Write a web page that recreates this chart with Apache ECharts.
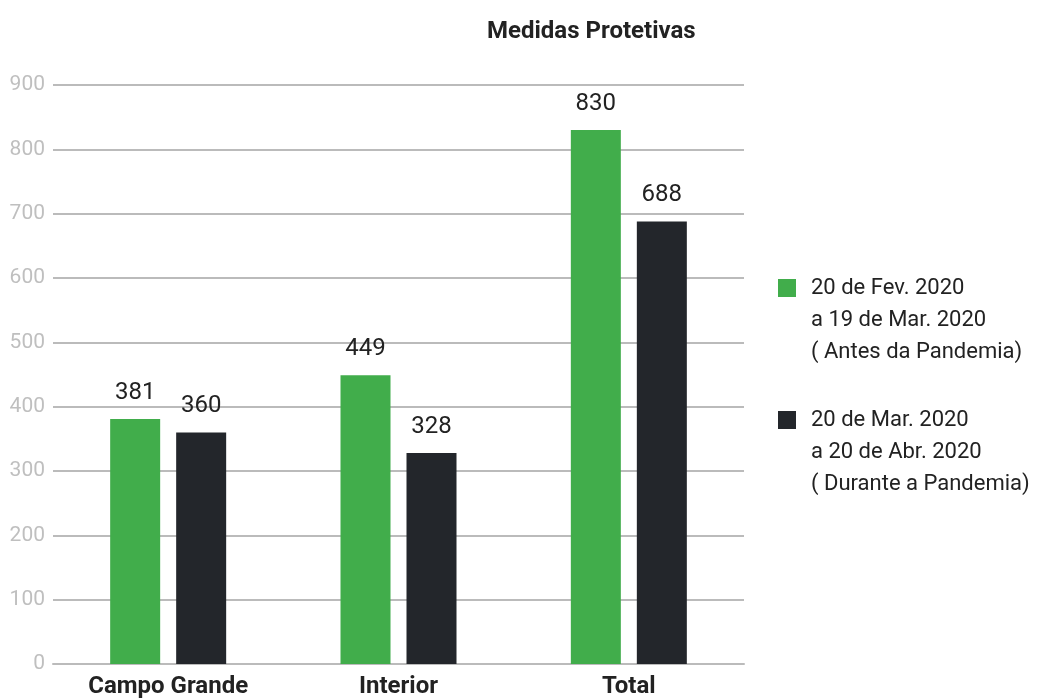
<!DOCTYPE html>
<html>
<head>
<meta charset="utf-8">
<script src="https://cdn.jsdelivr.net/npm/echarts@6/dist/echarts.min.js"></script>
<style>
  html, body { margin: 0; padding: 0; background: #fff; }
  #chart { width: 1054px; height: 699px; }
</style>
</head>
<body>
<div id="chart"></div>
<script>
const categories = ["Campo Grande", "Interior", "Total"];
const antes = [381, 449, 830];
const durante = [360, 328, 688];
const seriesNames = [
  "20 de Fev. 2020\na 19 de Mar. 2020\n( Antes da Pandemia)",
  "20 de Mar. 2020\na 20 de Abr. 2020\n( Durante a Pandemia)"
];

const chart = echarts.init(document.getElementById("chart"));

const labelStyle = {
  show: true,
  position: "top",
  distance: 14,
  fontSize: 24,
  color: "#222",
  fontFamily: "Roboto"
};

chart.setOption({
  textStyle: { fontFamily: "Roboto" },
  title: {
    text: "Medidas Protetivas",
    left: 482,
    top: 15,
    textStyle: { fontSize: 24, fontWeight: "bold", color: "#222" }
  },
  legend: {
    orient: "vertical",
    left: 778,
    top: 208,
    padding: 0,
    itemWidth: 18,
    itemHeight: 18,
    itemGap: -28,
    icon: "rect",
    // blank lines first so the icon lines up with the first text line
    formatter: name => "\n\n" + name,
    textStyle: {
      fontSize: 22,
      color: "#222",
      lineHeight: 32,
      padding: [0, 0, 0, 10]
    },
    data: seriesNames
  },
  grid: { left: 53, right: 310, top: 85, bottom: 34 },
  xAxis: {
    type: "category",
    data: categories,
    axisTick: { show: false },
    axisLine: { lineStyle: { color: "#bbb", width: 2 } },
    axisLabel: { fontSize: 24, fontWeight: "bold", color: "#222", margin: 11 }
  },
  yAxis: {
    type: "value",
    min: 0,
    max: 900,
    interval: 100,
    axisLine: { show: false },
    axisTick: { show: false },
    axisLabel: { fontSize: 21, color: "#bfbfbf", margin: 8 },
    splitLine: { lineStyle: { color: "#bbb", width: 2 } }
  },
  series: [
    {
      name: seriesNames[0],
      type: "bar",
      data: antes,
      barWidth: 50,
      barGap: "32%",
      itemStyle: { color: "#41ad4b" },
      label: labelStyle
    },
    {
      name: seriesNames[1],
      type: "bar",
      data: durante,
      barWidth: 50,
      itemStyle: { color: "#23262b" },
      label: labelStyle
    }
  ]
});
</script>
</body>
</html>
